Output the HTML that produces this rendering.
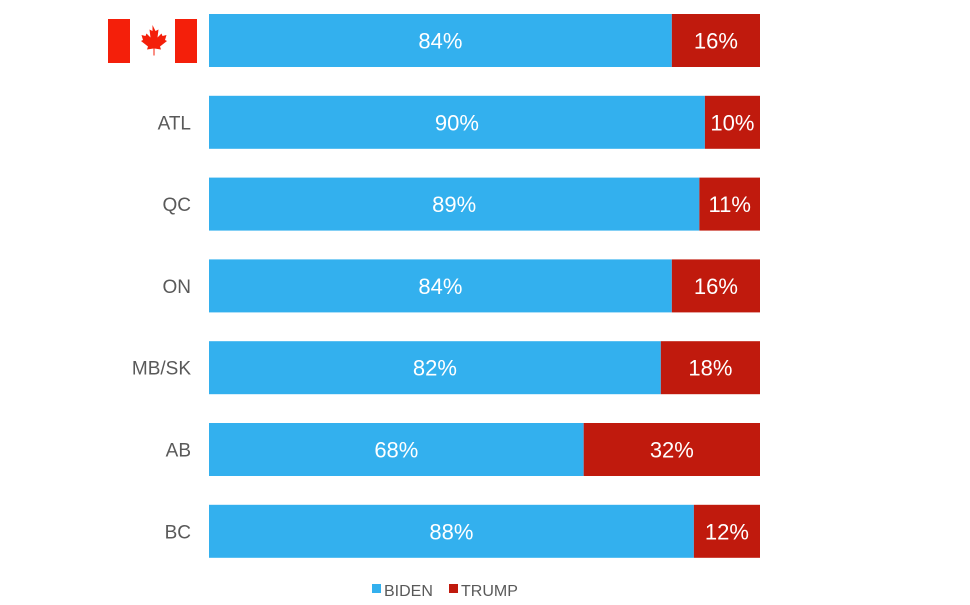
<!DOCTYPE html>
<html><head><meta charset="utf-8"><style>
html,body{margin:0;padding:0;background:#fff;width:970px;height:605px;overflow:hidden}
svg text{font-family:"Liberation Sans",Arial,sans-serif}
</style></head><body>
<svg id="chart" width="970" height="605" viewBox="0 0 970 605" xmlns="http://www.w3.org/2000/svg">
<g>
<rect x="108" y="19" width="22" height="44" fill="#f41f0a"/>
<rect x="175" y="19" width="22" height="44" fill="#f41f0a"/>
<path d="M152.5 25 l3 6 3-1.5-1 8 4-4 1 2.5 4-1-1.5 5 2 1-7 5.5 1 3-6.5-1v7h-1v-7l-6.5 1 1-3-7-5.5 2-1-1.5-5 4 1 1-2.5 4 4-1-8 3 1.5z" fill="#f41f0a"/>
</g>
<g id="bars"></g>
<g>
<rect x="372" y="584" width="9" height="9" fill="#33b0ee"/>
<text x="384" y="596" font-size="16" fill="#595959">BIDEN</text>
<rect x="449" y="584" width="9" height="9" fill="#c01a0d"/>
<text x="461" y="596" font-size="16" fill="#595959">TRUMP</text>
</g>
</svg>
<script>
const categories = ["CANADA","ATL","QC","ON","MB/SK","AB","BC"];
const bidenValues = [84,90,89,84,82,68,88];
const trumpValues = [16,10,11,16,18,32,12];
const NS="http://www.w3.org/2000/svg";
const x0=209, plotW=551, y0=14, step=81.8, barH=53;
const xScale=v=>v/100*plotW;
const g=document.getElementById('bars');
function mk(tag,attrs){const e=document.createElementNS(NS,tag);for(const k in attrs)e.setAttribute(k,attrs[k]);return e;}
categories.forEach((c,i)=>{
  const y=y0+i*step;
  const bw=xScale(bidenValues[i]), tw=xScale(trumpValues[i]);
  const rb=mk('rect',{x:x0,y:y,width:bw,height:barH,fill:'#33b0ee'});
  
  
  g.appendChild(rb);
  const rt=mk('rect',{x:x0+bw,y:y,width:tw,height:barH,fill:'#c01a0d'});
  
  
  g.appendChild(rt);
  const lb=mk('text',{x:x0+bw/2,y:y+barH/2+8,'font-size':22,fill:'#fff','text-anchor':'middle'});
  lb.textContent=bidenValues[i]+'%';
  
  
  g.appendChild(lb);
  const lt=mk('text',{x:x0+bw+tw/2,y:y+barH/2+8,'font-size':22,fill:'#fff','text-anchor':'middle'});
  lt.textContent=trumpValues[i]+'%';
  
  
  g.appendChild(lt);
  if(i>0){
    const cl=mk('text',{x:191,y:y+barH/2+7,'font-size':19,fill:'#595959','text-anchor':'end'});
    cl.textContent=c;
    
    
    g.appendChild(cl);
  }
});
</script>
</body></html>
